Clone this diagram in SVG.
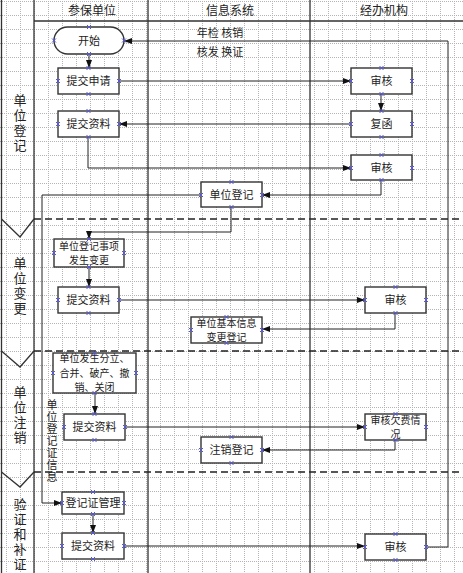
<svg xmlns="http://www.w3.org/2000/svg" width="463" height="573" viewBox="0 0 463 573">
<style>
text{font-family:"Noto Sans CJK SC","Liberation Sans",sans-serif;fill:#222;}
.hd{font-size:12px;text-anchor:middle;}
.nt{font-size:11px;text-anchor:middle;}
.ml{font-size:10px;text-anchor:middle;}
.ph{font-size:13px;writing-mode:vertical-rl;letter-spacing:2px;}
.lb{font-size:11px;text-anchor:middle;}
.vl{font-size:11px;writing-mode:vertical-rl;letter-spacing:1px;}
.box{fill:#fff;stroke:#333;stroke-width:1.4;}
.lane{fill:none;stroke:#333;stroke-width:1.3;}
.dash{fill:none;stroke:#222;stroke-width:1.3;stroke-dasharray:7 4;}
.con{fill:none;stroke:#222;stroke-width:1;}
.cp{fill:none;stroke:#5555dd;stroke-width:1;}
</style>
<defs>
<pattern id="grid" x="6" y="1" width="14" height="14" patternUnits="userSpaceOnUse">
<path d="M0.5,0 V14 M0,0.5 H14" fill="none" stroke="#b4b4b4" stroke-width="1" stroke-dasharray="1 1"/>
</pattern>
<marker id="ar" viewBox="0 0 8 6" refX="8" refY="3" markerWidth="8" markerHeight="6" markerUnits="userSpaceOnUse" orient="auto">
<path d="M0,0 L8,3 L0,6 Z" fill="#111"/>
</marker>
<symbol id="x" overflow="visible"><path class="cp" d="M-2,-2 L2,2 M-2,2 L2,-2"/></symbol>
</defs>
<rect width="463" height="573" fill="#fff"/>
<rect width="463" height="573" fill="url(#grid)"/>

<g id="lanes">
<path class="lane" d="M1.5,0 V573 M34,0 V573 M148,0 V573 M310,0 V573 M34,21 H463"/>
<path class="lane" d="M1.5,219 L20,237 L34,219 M1.5,351 L20,367 L34,351 M1.5,472 L20,487 L34,472"/>
<path class="dash" d="M34,219 H463 M34,351 H463 M34,472 H463"/>
<text class="hd" x="92" y="15">参保单位</text>
<text class="hd" x="230" y="15">信息系统</text>
<text class="hd" x="384" y="15">经办机构</text>
</g>

<g id="phases">
<text class="ph" x="20" y="93.5">单位登记</text>
<text class="ph" x="20" y="256.5">单位变更</text>
<text class="ph" x="20" y="385.5">单位注销</text>
<text class="ph" x="20" y="498">验证和补证</text>
</g>

<g id="connectors">
<path class="con" d="M426,547 H448 V41 H124" marker-end="url(#ar)"/>
<path class="con" d="M89,54 V68" marker-end="url(#ar)"/>
<path class="con" d="M119,81 H351" marker-end="url(#ar)"/>
<path class="con" d="M381,94 V111" marker-end="url(#ar)"/>
<path class="con" d="M351,124 H119" marker-end="url(#ar)"/>
<path class="con" d="M88,137 V168 H351" marker-end="url(#ar)"/>
<path class="con" d="M381,180 V195 H262" marker-end="url(#ar)"/>
<path class="con" d="M201,195 H42 V503 H62" marker-end="url(#ar)"/>
<path class="con" d="M231,207 V232 H89 V239" marker-end="url(#ar)"/>
<path class="con" d="M89,267 V287" marker-end="url(#ar)"/>
<path class="con" d="M119,300 H365" marker-end="url(#ar)"/>
<path class="con" d="M395,313 V329 H262" marker-end="url(#ar)"/>
<path class="con" d="M95,393 V414" marker-end="url(#ar)"/>
<path class="con" d="M125,427 H365" marker-end="url(#ar)"/>
<path class="con" d="M395,440 V450 H262" marker-end="url(#ar)"/>
<path class="con" d="M93,514 V533" marker-end="url(#ar)"/>
<path class="con" d="M124,546 H365" marker-end="url(#ar)"/>
<text class="lb" x="220" y="37">年检 核销</text>
<text class="lb" x="220" y="56">核发 换证</text>
<text class="vl" x="52" y="399">单位登记证信息</text>
</g>

<g id="n-start">
<rect class="box" x="54" y="27" width="70" height="27" rx="13.5"/>
<text class="nt" x="89" y="45">开始</text>
<use href="#x" x="89" y="27"/><use href="#x" x="89" y="54"/><use href="#x" x="54" y="40.5"/><use href="#x" x="124" y="40.5"/>
</g>
<g id="n-apply">
<rect class="box" x="58" y="68" width="61" height="26"/>
<text class="nt" x="88.5" y="85">提交申请</text>
<use href="#x" x="88.5" y="68"/><use href="#x" x="88.5" y="94"/><use href="#x" x="58" y="81"/><use href="#x" x="119" y="81"/>
</g>
<g id="n-submit1">
<rect class="box" x="58" y="111" width="61" height="26"/>
<text class="nt" x="88.5" y="128">提交资料</text>
<use href="#x" x="88.5" y="111"/><use href="#x" x="88.5" y="137"/><use href="#x" x="58" y="124"/><use href="#x" x="119" y="124"/>
</g>
<g id="n-review1">
<rect class="box" x="351" y="68" width="61" height="26"/>
<text class="nt" x="381.5" y="85">审核</text>
<use href="#x" x="381.5" y="68"/><use href="#x" x="381.5" y="94"/><use href="#x" x="351" y="81"/><use href="#x" x="412" y="81"/>
</g>
<g id="n-reply">
<rect class="box" x="351" y="111" width="61" height="26"/>
<text class="nt" x="381.5" y="128">复函</text>
<use href="#x" x="381.5" y="111"/><use href="#x" x="381.5" y="137"/><use href="#x" x="351" y="124"/><use href="#x" x="412" y="124"/>
</g>
<g id="n-review2">
<rect class="box" x="351" y="155" width="61" height="25"/>
<text class="nt" x="381.5" y="171.5">审核</text>
<use href="#x" x="381.5" y="155"/><use href="#x" x="381.5" y="180"/><use href="#x" x="351" y="168"/><use href="#x" x="412" y="168"/>
</g>
<g id="n-register">
<rect class="box" x="201" y="182" width="61" height="25"/>
<text class="nt" x="231.5" y="198.5">单位登记</text>
<use href="#x" x="231.5" y="182"/><use href="#x" x="231.5" y="207"/><use href="#x" x="201" y="195"/><use href="#x" x="262" y="195"/>
</g>
<g id="n-change">
<rect class="box" x="54" y="239" width="70" height="28"/>
<text class="ml"><tspan x="89" y="249.5">单位登记事项</tspan><tspan x="89" y="264">发生变更</tspan></text>
<use href="#x" x="89" y="239"/><use href="#x" x="89" y="267"/><use href="#x" x="54" y="253"/><use href="#x" x="124" y="253"/>
</g>
<g id="n-submit2">
<rect class="box" x="58" y="287" width="61" height="26"/>
<text class="nt" x="88.5" y="304">提交资料</text>
<use href="#x" x="88.5" y="287"/><use href="#x" x="88.5" y="313"/><use href="#x" x="58" y="300"/><use href="#x" x="119" y="300"/>
</g>
<g id="n-review3">
<rect class="box" x="365" y="287" width="61" height="26"/>
<text class="nt" x="395.5" y="304">审核</text>
<use href="#x" x="395.5" y="287"/><use href="#x" x="395.5" y="313"/><use href="#x" x="365" y="300"/><use href="#x" x="426" y="300"/>
</g>
<g id="n-infochange">
<rect class="box" x="191" y="317" width="71" height="26"/>
<text class="ml"><tspan x="226.5" y="326.5">单位基本信息</tspan><tspan x="226.5" y="341">变更登记</tspan></text>
<use href="#x" x="226.5" y="317"/><use href="#x" x="226.5" y="343"/><use href="#x" x="191" y="330"/><use href="#x" x="262" y="330"/>
</g>
<g id="n-split">
<rect class="box" x="53" y="353" width="83" height="40"/>
<text class="ml"><tspan x="94.5" y="362">单位发生分立、</tspan><tspan x="94.5" y="376.5">合并、破产、撤</tspan><tspan x="94.5" y="391">销、关闭</tspan></text>
<use href="#x" x="94.5" y="353"/><use href="#x" x="94.5" y="393"/><use href="#x" x="53" y="373"/><use href="#x" x="136" y="373"/>
</g>
<g id="n-submit3">
<rect class="box" x="64" y="414" width="61" height="26"/>
<text class="nt" x="94.5" y="431">提交资料</text>
<use href="#x" x="94.5" y="414"/><use href="#x" x="94.5" y="440"/><use href="#x" x="64" y="427"/><use href="#x" x="125" y="427"/>
</g>
<g id="n-arrears">
<rect class="box" x="365" y="414" width="61" height="26"/>
<text class="ml"><tspan x="395.5" y="423.5">审核欠费情</tspan><tspan x="395.5" y="438">况</tspan></text>
<use href="#x" x="395.5" y="414"/><use href="#x" x="395.5" y="440"/><use href="#x" x="365" y="427"/><use href="#x" x="426" y="427"/>
</g>
<g id="n-cancel">
<rect class="box" x="201" y="437" width="61" height="26"/>
<text class="nt" x="231.5" y="454">注销登记</text>
<use href="#x" x="231.5" y="437"/><use href="#x" x="231.5" y="463"/><use href="#x" x="201" y="450"/><use href="#x" x="262" y="450"/>
</g>
<g id="n-certmgmt">
<rect class="box" x="62" y="492" width="62" height="22"/>
<text class="nt" x="93" y="507">登记证管理</text>
<use href="#x" x="93" y="492"/><use href="#x" x="93" y="514"/><use href="#x" x="62" y="503"/><use href="#x" x="124" y="503"/>
</g>
<g id="n-submit4">
<rect class="box" x="62" y="533" width="62" height="26"/>
<text class="nt" x="93" y="550">提交资料</text>
<use href="#x" x="93" y="533"/><use href="#x" x="93" y="559"/><use href="#x" x="62" y="546"/><use href="#x" x="124" y="546"/>
</g>
<g id="n-review4">
<rect class="box" x="365" y="534" width="61" height="26"/>
<text class="nt" x="395.5" y="551">审核</text>
<use href="#x" x="395.5" y="534"/><use href="#x" x="395.5" y="560"/><use href="#x" x="365" y="547"/><use href="#x" x="426" y="547"/>
</g>
</svg>
